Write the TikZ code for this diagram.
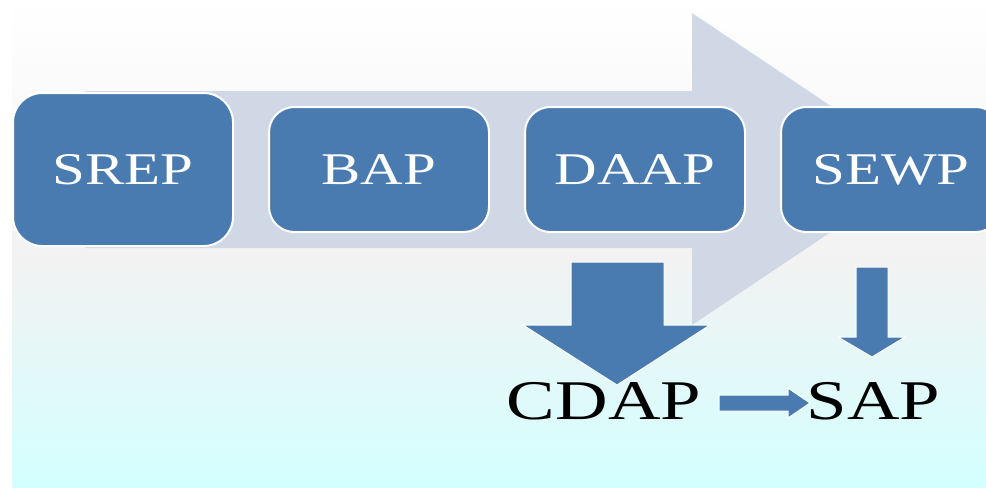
\documentclass[tikz,border=0pt]{standalone}
\usepackage{fontspec}
\setmainfont{Liberation Serif}
\usetikzlibrary{positioning}
\definecolor{stepblue}{HTML}{4A7BB0}
\definecolor{flowgrey}{HTML}{D0D8E6}
\definecolor{bgmid}{HTML}{F2F2F2}
\definecolor{bgcyan}{HTML}{D4FFFF}
\newcommand{\widetext}[1]{\scalebox{1.3}[1]{#1}}
\tikzset{
	phase/.style = {draw = white, line width = 1.5pt, fill = stepblue, text = white, rounded corners = 19pt,
		minimum width = 165pt, minimum height = 93.75pt, inner sep = 0pt, font = \fontsize{34}{40}\selectfont},
	blockarrow/.style = {draw = white, line width = 0.75pt, fill = stepblue},
	outcome/.style = {inner sep = 0pt, font = \fontsize{42}{48}\selectfont}
}

\begin{document}
\begin{tikzpicture}[x = 0.75pt, y = -0.75pt, node distance = 25.5pt]
	\useasboundingbox (0,0) rectangle (986,487);
	\clip (0,0) rectangle (986,487);
	% background
	\shade[top color = white, bottom color = bgmid] (12,0) rectangle (986,260);
	\shade[top color = bgmid, bottom color = bgcyan] (12,260) rectangle (986,487);
	% process arrow
	\fill[flowgrey] (85,91) -- (692,91) -- (692,13) -- (925,169) -- (692,325) -- (692,248) -- (85,248) -- cycle;
	% phases
	\node[phase, minimum height = 114.75pt, rounded corners = 22pt] (SREP) at (123,169.5) {\widetext{SREP}};
	\node[phase, right = of SREP] (BAP) {\widetext{BAP}};
	\node[phase, right = of BAP] (DAAP) {\widetext{DAAP}};
	\node[phase, right = of DAAP] (SEWP) {\widetext{SEWP}};
	% outcomes
	\node[outcome] (CDAP) at (604,401.5) {\widetext{CDAP}};
	\node[outcome] (SAP) at (873.5,401.5) {\widetext{SAP}};
	\draw[blockarrow] (571,262) -- (664,262) -- (664,325) -- (710,325) -- (617,385) -- (523,325) -- (571,325) -- cycle;
	\draw[blockarrow] (856,267) -- (888,267) -- (888,337) -- (905,337) -- (872,357) -- (838,337) -- (856,337) -- cycle;
	\draw[blockarrow] (719,395) -- (788,395) -- (788,388) -- (810,403) -- (788,418) -- (788,411) -- (719,411) -- cycle;
\end{tikzpicture}
\end{document}
